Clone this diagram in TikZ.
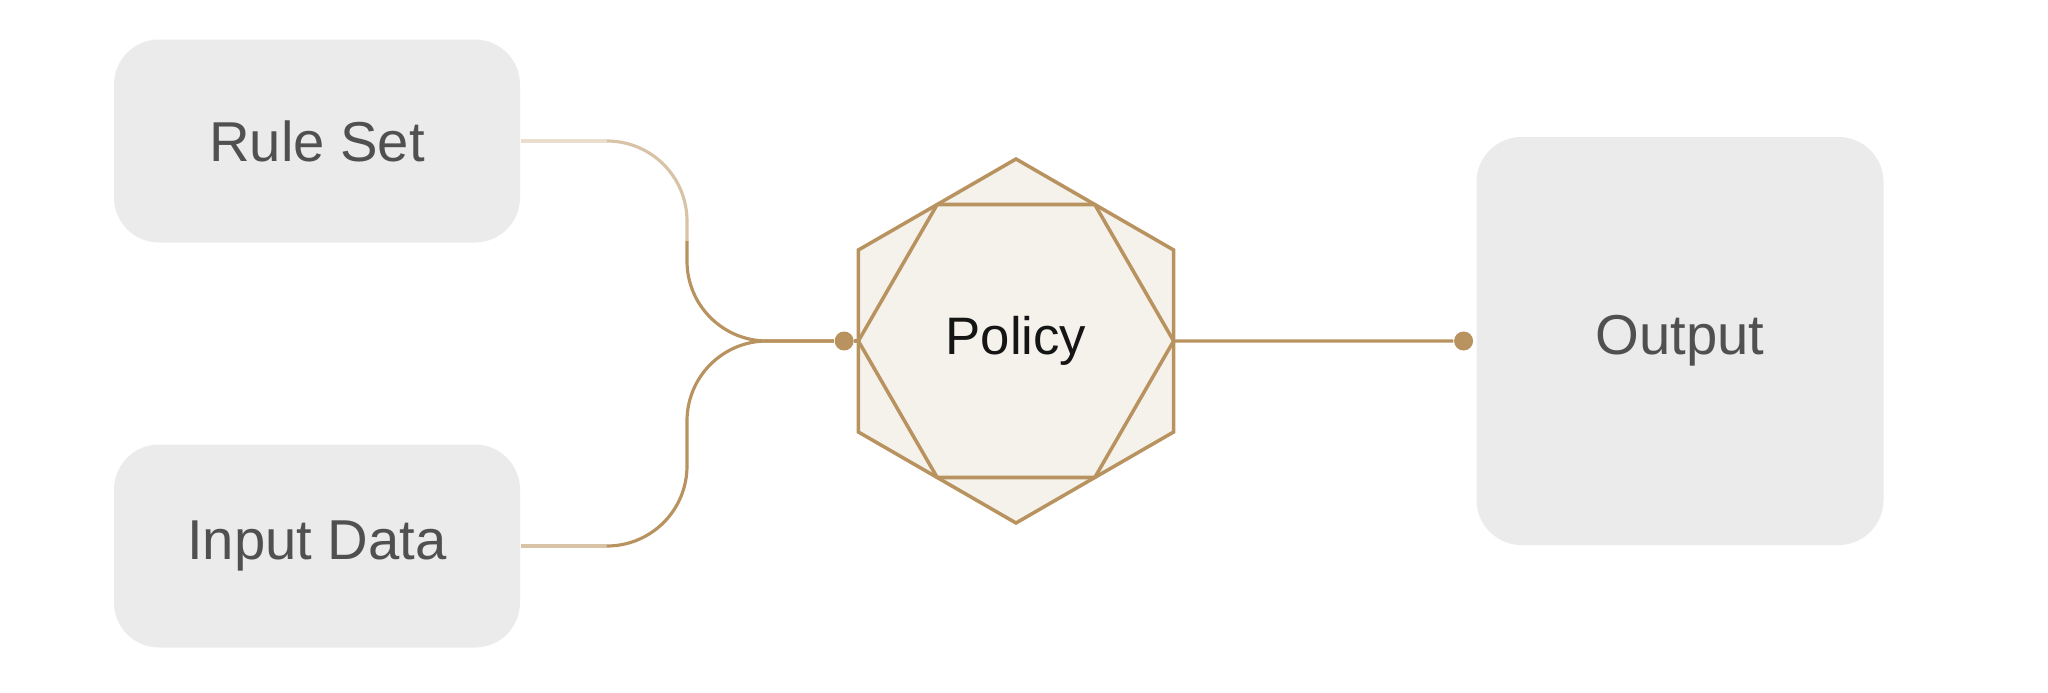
\documentclass[tikz,border=0pt]{standalone}
\usepackage{fontspec}
\setmainfont{Liberation Sans}
\usetikzlibrary{positioning,shapes.geometric}

\definecolor{linktan}{HTML}{B8925F}
\definecolor{boxgray}{HTML}{EBEBEB}
\definecolor{hexfill}{HTML}{F5F2EB}
\definecolor{labelgray}{HTML}{505050}
\definecolor{policyblack}{HTML}{151515}

\begin{document}
\begin{tikzpicture}[
		box/.style={fill=boxgray, rounded corners=0.45cm, minimum width=4.06cm, minimum height=2.03cm, text=labelgray, font=\fontsize{16}{19}\selectfont},
		hexa/.style={regular polygon, regular polygon sides=6, shape border rotate=30, minimum size=3.64cm, inner sep=0pt, outer sep=0pt, draw=linktan, line width=1pt, fill=hexfill, text=policyblack, font=\fontsize{15}{18}\selectfont},
		pin/.style={circle, fill=linktan, minimum size=0.19cm, inner sep=0pt},
		link/.style={line width=0.9pt, draw=linktan}]
		\useasboundingbox (0, 0) rectangle (20.48, 6.92);
		
		% Inputs
		\node[box] (rule) at (3.17, 5.51) {Rule Set};
		\node[box] (input) at (3.17, 1.46) {Input Data};
		
		% Policy hexagon
		\node[hexa] (policy) at (10.16, 3.51) {Policy};
		\draw[line width=1pt, linktan, line join=round] (policy.side 1) -- (policy.side 2) -- (policy.side 3) -- (policy.side 4) -- (policy.side 5) -- (policy.side 6) -- cycle;
		
		% Output
		\node[box, minimum width=4.07cm, minimum height=4.08cm] (output) at (16.80, 3.51) {Output};
		
		% Pins
		\node[pin, left=0.04cm of policy.west] (pinin) {};
		\node[pin, left=0.02cm of output.west] (pinout) {};
		
		% Bend points
		\coordinate (rbend) at (6.07, 5.51);
		\coordinate (rmid) at (6.87, 4.51);
		\coordinate (ibend) at (6.07, 1.46);
		\coordinate (imid) at (6.87, 2.49);
		
		% Rule Set link, fading in
		\draw[link, linktan!30] (rule.east) -- (rbend);
		\draw[link, linktan!55, rounded corners=0.8cm] (rbend) -| (rmid);
		\draw[link, rounded corners=0.8cm] (rmid) |- (pinin);
		
		% Input Data link
		\draw[link, linktan!55] (input.east) -- (ibend);
		\draw[link, rounded corners=0.8cm] (ibend) -| (imid);
		\draw[link, rounded corners=0.8cm] (imid) |- (pinin);
		
		% Policy to output
		\draw[link] (pinin) -- (policy.west);
		\draw[link] (policy.east) -- (pinout);
	\end{tikzpicture}
\end{document}
